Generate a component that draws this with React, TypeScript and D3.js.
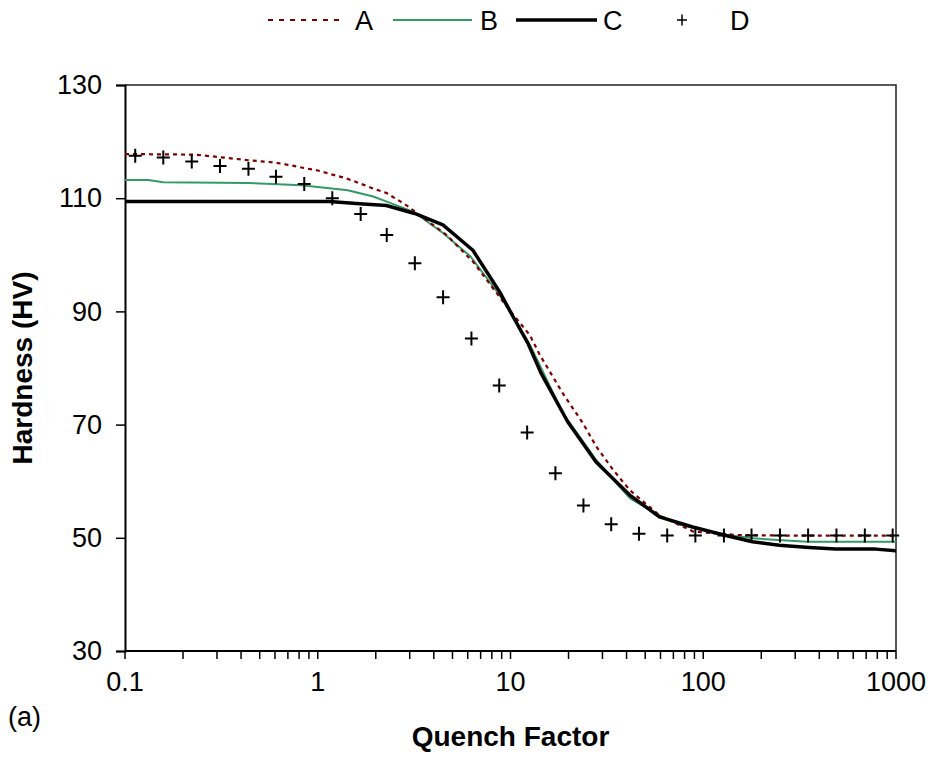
import React, { useEffect, useRef } from "react";
import * as d3 from "d3";

// series (quench factor, hardness HV)
const quenchA = [0.1, 0.23, 0.3, 0.44, 0.6, 0.7, 0.86, 1.0, 1.18, 1.38, 1.66, 1.94, 2.28, 2.9, 3.67, 4.66, 6.38, 9.9, 12.6, 14.2, 18.7, 23.8, 27.9, 34.1, 41.6, 59.6, 88.9, 148, 250, 1000];
const hardA = [117.8, 117.7, 117.3, 116.7, 116.3, 115.9, 115.3, 114.9, 114.2, 113.6, 112.6, 111.7, 110.9, 108.7, 106.1, 103.5, 98.8, 90.2, 85.8, 82.3, 75.5, 70.2, 66.1, 62.0, 58.4, 53.9, 51.1, 50.5, 50.4, 50.4];

const quenchB = [0.1, 0.132, 0.158, 0.435, 0.824, 1.43, 1.94, 2.28, 3.14, 4.48, 6.2, 8.77, 10.3, 12.6, 18.7, 27.9, 41.6, 59.6, 75.8, 99.6, 132, 182, 345, 1000];
const hardB = [113.2, 113.2, 112.8, 112.7, 112.3, 111.4, 110.3, 109.4, 107.6, 103.8, 99.7, 92.9, 89.1, 84.1, 72.0, 63.7, 57.0, 53.9, 52.3, 51.4, 50.5, 49.9, 49.3, 49.3];

const quenchC = [0.1, 1.15, 1.65, 2.27, 3.18, 4.46, 6.38, 8.77, 10.3, 12.3, 14.4, 19.8, 27.8, 41.4, 59.2, 88.1, 131, 180, 248, 354, 487, 785, 1000];
const hardC = [109.4, 109.4, 109.0, 108.7, 107.3, 105.3, 100.8, 93.5, 89.1, 84.4, 79.1, 70.5, 63.4, 57.6, 53.7, 51.9, 50.4, 49.3, 48.7, 48.3, 48.0, 48.0, 47.7];

const quenchD = [0.113, 0.158, 0.222, 0.311, 0.437, 0.607, 0.851, 1.19, 1.67, 2.28, 3.19, 4.47, 6.27, 8.74, 12.2, 17.1, 23.9, 33.3, 46.4, 65, 91, 128, 178, 250, 350, 491, 689, 961];
const hardD = [117.5, 117.2, 116.5, 115.7, 115.2, 113.8, 112.5, 110.0, 107.2, 103.5, 98.5, 92.5, 85.2, 76.9, 68.6, 61.4, 55.7, 52.4, 50.7, 50.4, 50.4, 50.4, 50.4, 50.4, 50.4, 50.4, 50.4, 50.4];

const xTicks = [0.1, 1, 10, 100, 1000];
const xTickLabels = ["0.1", "1", "10", "100", "1000"];
const yTicks = [30, 50, 70, 90, 110, 130];
const seriesNames = ["A", "B", "C", "D"];

const FONT = "'Liberation Sans', Arial, sans-serif";

function App() {
  const ref = useRef<SVGSVGElement>(null);

  useEffect(() => {
    const svg = d3.select(ref.current);
    svg.selectAll("*").remove();

    const left = 125, right = 896, top = 85, bottom = 651;

    const x = d3.scaleLog().domain([0.1, 1000]).range([left, right]);
    const y = d3.scaleLinear().domain([30, 130]).range([bottom, top]);

    // frame (top + right)
    svg.append("path")
      .attr("d", `M${left},${top}H${right}V${bottom}`)
      .attr("fill", "none")
      .attr("stroke", "#222")
      .attr("stroke-width", 1.5);

    // y axis
    const yAxis = d3.axisLeft(y).tickValues(yTicks).tickSize(9).tickPadding(14);
    const gy = svg.append("g").attr("transform", `translate(${left},0)`).call(yAxis);
    gy.select(".domain").attr("stroke", "#000").attr("stroke-width", 2);
    gy.selectAll(".tick line").attr("stroke", "#000").attr("stroke-width", 1.5);
    gy.selectAll(".tick text")
      .attr("font-family", FONT)
      .attr("font-size", 27)
      .attr("fill", "#000");

    // x axis with minor ticks
    const minor: number[] = [];
    for (let e = -1; e < 3; e++) {
      for (let m = 2; m <= 9; m++) minor.push(m * Math.pow(10, e));
    }
    const gx = svg.append("g").attr("transform", `translate(0,${bottom})`);
    gx.selectAll("line.minor")
      .data(minor.concat(xTicks))
      .enter()
      .append("line")
      .attr("x1", d => x(d))
      .attr("x2", d => x(d))
      .attr("y1", 0)
      .attr("y2", 8)
      .attr("stroke", "#000")
      .attr("stroke-width", 1.5);
    gx.append("line")
      .attr("x1", left)
      .attr("x2", right)
      .attr("stroke", "#000")
      .attr("stroke-width", 2);
    gx.selectAll("text")
      .data(xTicks)
      .enter()
      .append("text")
      .attr("x", d => x(d))
      .attr("y", 40)
      .attr("text-anchor", "middle")
      .attr("font-family", FONT)
      .attr("font-size", 27)
      .text((d, i) => xTickLabels[i]);

    // axis titles
    svg.append("text")
      .attr("x", (left + right) / 2)
      .attr("y", 746)
      .attr("text-anchor", "middle")
      .attr("font-family", FONT)
      .attr("font-size", 28)
      .attr("font-weight", "bold")
      .text("Quench Factor");
    svg.append("text")
      .attr("transform", `translate(32,${(top + bottom) / 2}) rotate(-90)`)
      .attr("text-anchor", "middle")
      .attr("font-family", FONT)
      .attr("font-size", 28)
      .attr("font-weight", "bold")
      .text("Hardness (HV)");
    svg.append("text")
      .attr("x", 8)
      .attr("y", 726)
      .attr("font-family", FONT)
      .attr("font-size", 27)
      .text("(a)");

    const line = d3.line<[number, number]>()
      .x(d => x(d[0]))
      .y(d => y(d[1]));

    const pA = quenchA.map((q, i) => [q, hardA[i]] as [number, number]);
    const pB = quenchB.map((q, i) => [q, hardB[i]] as [number, number]);
    const pC = quenchC.map((q, i) => [q, hardC[i]] as [number, number]);

    svg.append("path")
      .attr("d", line(pB))
      .attr("fill", "none")
      .attr("stroke", "#339966")
      .attr("stroke-width", 2);
    svg.append("path")
      .attr("d", line(pA))
      .attr("fill", "none")
      .attr("stroke", "#800000")
      .attr("stroke-width", 2.2)
      .attr("stroke-dasharray", "4,4");
    svg.append("path")
      .attr("d", line(pC))
      .attr("fill", "none")
      .attr("stroke", "#000")
      .attr("stroke-width", 3.5)
      .attr("stroke-linejoin", "round");

    const plus = "M-6.5,0H6.5M0,-7V7";
    svg.append("g")
      .selectAll("path")
      .data(quenchD)
      .enter()
      .append("path")
      .attr("transform", (d, i) => `translate(${x(d)},${y(hardD[i])})`)
      .attr("d", plus)
      .attr("stroke", "#000")
      .attr("stroke-width", 2);

    // legend
    const legend = svg.append("g").attr("transform", "translate(0,20)");
    const sampleX = [[268, 340], [393, 472], [516, 597]];
    const textX = [355, 480, 603, 730];
    const styles = [
      { stroke: "#800000", w: 2.2, dash: "5,6" },
      { stroke: "#339966", w: 2, dash: null },
      { stroke: "#000", w: 3.5, dash: null },
    ];
    sampleX.forEach((s, i) => {
      legend.append("line")
        .attr("x1", s[0])
        .attr("x2", s[1])
        .attr("stroke", styles[i].stroke)
        .attr("stroke-width", styles[i].w)
        .attr("stroke-dasharray", styles[i].dash);
    });
    legend.append("path")
      .attr("transform", "translate(682,0)")
      .attr("d", "M-5,0H5M0,-5.5V5.5")
      .attr("stroke", "#000")
      .attr("stroke-width", 1.5);
    seriesNames.forEach((n, i) => {
      legend.append("text")
        .attr("x", textX[i])
        .attr("y", 10)
        .attr("font-family", FONT)
        .attr("font-size", 27)
        .text(n);
    });
  }, []);

  return (
    <svg
      ref={ref}
      width={930}
      height={760}
      style={{ position: "absolute", left: 0, top: 0, background: "#fff" }}
    />
  );
}

export default App;
